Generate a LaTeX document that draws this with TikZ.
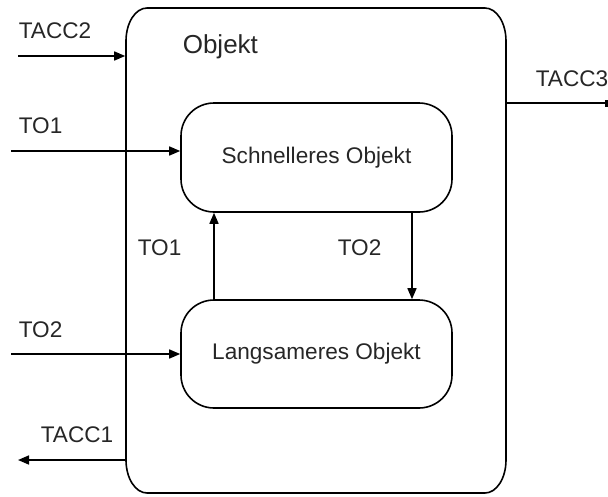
\documentclass[tikz,border=0pt]{standalone}
\usepackage{fontspec}
\setmainfont{Liberation Sans}
\usetikzlibrary{arrows.meta}
\begin{document}
\begin{tikzpicture}[x=1pt,y=-1pt,
  line width=1.6pt,
  lbl/.style={font=\fontsize{22.6}{26}\selectfont, text=black!85, inner sep=0pt, anchor=base west},
  box/.style={draw, rectangle, inner sep=0pt, text=black!85, font=\fontsize{22.6}{26}\selectfont},
  arr/.style={-{Triangle[length=11pt,width=9pt]}}
]
\useasboundingbox (0,0) rectangle (608,496);
% outer object (anchor node + elliptical-cornered outline)
\node[rectangle, inner sep=0pt, minimum width=380pt, minimum height=485pt] (outer) at (316,250.5) {};
\draw (126,41) .. controls (126,22.8) and (135.4,8) .. (147,8) -- (485,8)
  .. controls (496.6,8) and (506,22.8) .. (506,41) -- (506,460)
  .. controls (506,478.2) and (496.6,493) .. (485,493) -- (147,493)
  .. controls (135.4,493) and (126,478.2) .. (126,460) -- cycle;
\node[lbl, font=\fontsize{26}{30}\selectfont] (objlbl) at (182,53) {Objekt};
% inner boxes
\node[box, rounded corners=33pt, minimum width=271pt, minimum height=109pt] (fast) at (316.5,157.5) {Schnelleres Objekt};
\node[box, rounded corners=33pt, minimum width=271pt, minimum height=108pt] (slow) at (316.5,354) {Langsameres Objekt};
% external coordinates
\coordinate (tacc2s) at (18,56);
\coordinate (to1s) at (11,151);
\coordinate (to2s) at (11,354);
\coordinate (tacc1e) at (18,460);
\coordinate (tacc3e) at (605,103);
\coordinate (upx) at (214,0);
\coordinate (dnx) at (412,0);
% connectors
\draw[arr] (tacc2s) -- (outer.west |- tacc2s);
\draw[arr] (to1s) -- (fast.west |- to1s);
\draw[arr] (to2s) -- (slow.west |- to2s);
\draw[arr] (outer.west |- tacc1e) -- (tacc1e);
\draw (outer.east |- tacc3e) -- (tacc3e);
\fill (tacc3e) ++(0,-3.5) rectangle ++(3,7);
\draw[arr] (upx |- slow.north) -- (upx |- fast.south);
\draw[arr] (dnx |- fast.south) -- (dnx |- slow.north);
% labels
\node[lbl] (l_tacc2) at (18,38) {TACC2};
\node[lbl] (l_to1a) at (18,133) {TO1};
\node[lbl] (l_to2a) at (18,337) {TO2};
\node[lbl] (l_tacc1) at (40,442) {TACC1};
\node[lbl] (l_tacc3) at (535,86) {TACC3};
\node[lbl] (l_to1b) at (137,255) {TO1};
\node[lbl] (l_to2b) at (337,255) {TO2};
\end{tikzpicture}
\end{document}
